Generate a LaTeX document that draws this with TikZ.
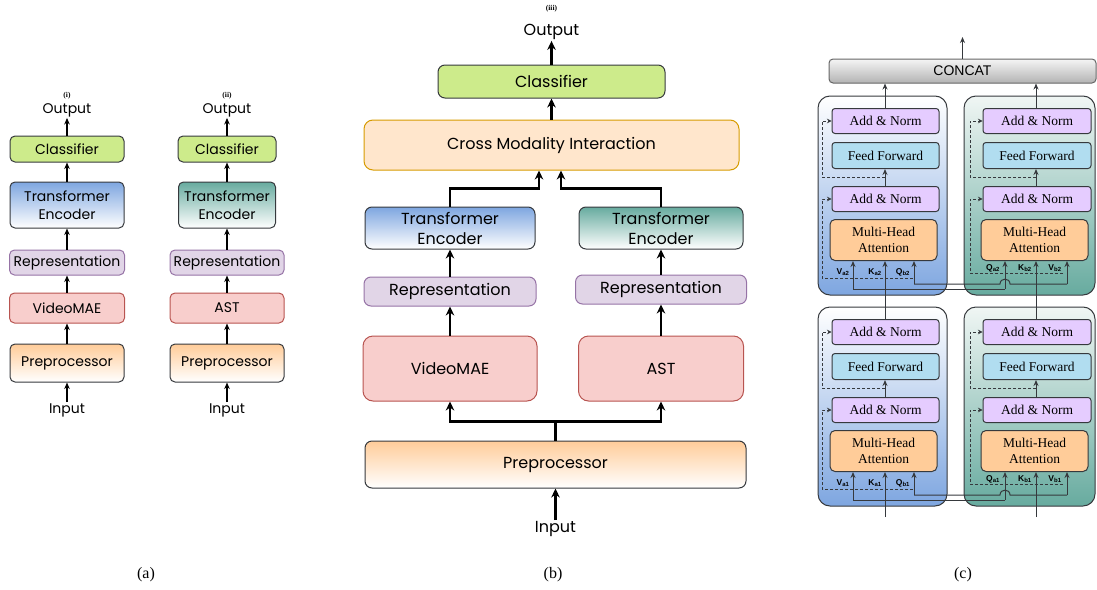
\documentclass[tikz,border=0pt]{standalone}
\usepackage{fontspec}
\setmainfont{Liberation Serif}
\newfontfamily\handfont{Poppins}
\newfontfamily\helvfont{Liberation Sans}
\usetikzlibrary{arrows.meta}

\definecolor{dk}{HTML}{36393D}
\definecolor{blueT}{HTML}{7EA6E0}
\definecolor{tealT}{HTML}{67AB9F}
\definecolor{tealL}{HTML}{F0F6F4}
\definecolor{preT}{HTML}{FFCC99}
\definecolor{clfg}{HTML}{CDEB8B}
\definecolor{repf}{HTML}{E1D5E7}
\definecolor{repd}{HTML}{9673A6}
\definecolor{encf}{HTML}{F8CECC}
\definecolor{encd}{HTML}{B85450}
\definecolor{cmif}{HTML}{FFE6CC}
\definecolor{cmid}{HTML}{D79B00}
\definecolor{addf}{HTML}{E5CCFF}
\definecolor{fff}{HTML}{B1DDF0}
\definecolor{mhaf}{HTML}{FFCC99}
\definecolor{ccT}{HTML}{F5F5F5}
\definecolor{ccB}{HTML}{B3B3B3}
\definecolor{ccD}{HTML}{666666}

\tikzset{
  % single-modality pipelines
  abox/.style={draw=dk, rounded corners=5pt, line width=1pt, inner sep=0pt, align=center,
    font=\handfont\fontsize{14}{18}\selectfont},
  % fused pipeline
  bbox/.style={draw=dk, rounded corners=7pt, line width=1pt, inner sep=0pt, align=center,
    font=\handfont\fontsize{16}{20}\selectfont},
  clf/.style={fill=clfg},
  rep/.style={fill=repf, draw=repd},
  enc/.style={fill=encf, draw=encd},
  pre/.style={top color=preT, bottom color=white},
  teA/.style={top color=blueT, bottom color=white},
  teB/.style={top color=tealT, bottom color=white},
  cmi/.style={fill=cmif, draw=cmid},
  alab/.style={font=\handfont\fontsize{14}{14}\selectfont, inner sep=1pt},
  blab/.style={font=\handfont\fontsize{16}{16}\selectfont, inner sep=1pt},
  tag/.style={font=\fontsize{7.5}{7.5}\selectfont\bfseries, inner sep=0pt},
  captxt/.style={font=\fontsize{16}{16}\selectfont, inner sep=0pt},
  arrA/.style={line width=1.5pt, -{Stealth[length=6.5pt,width=5.5pt]}},
  arrB/.style={line width=2.3pt, -{Stealth[length=9pt,width=8.5pt]}},
  % cross-attention layers
  layerA/.style={draw=dk, rounded corners=12pt, line width=1pt, top color=white, bottom color=blueT, inner sep=0pt},
  layerB/.style={draw=dk, rounded corners=12pt, line width=1pt, top color=tealL, bottom color=tealT, inner sep=0pt},
  cbox/.style={draw=dk, rounded corners=3pt, line width=1pt, inner sep=0pt, align=center,
    font=\fontsize{13.5}{16}\selectfont},
  addn/.style={cbox, fill=addf, minimum width=107pt, minimum height=25pt},
  ffw/.style={cbox, fill=fff, minimum width=107pt, minimum height=26pt},
  mha/.style={cbox, fill=mhaf, rounded corners=5pt, minimum width=107pt, minimum height=41pt},
  wire/.style={draw=dk, line width=1pt},
  warr/.style={wire, -{Stealth[length=6pt,width=5pt]}},
  res/.style={wire, dash pattern=on 3pt off 2pt, -{Stealth[length=4.5pt,width=4.5pt]}},
  qkv/.style={font=\helvfont\bfseries\fontsize{8.5}{8.5}\selectfont, inner sep=0pt},
  concat/.style={draw=ccD, rounded corners=4pt, line width=1pt, top color=ccT, bottom color=ccB,
    inner sep=0pt, font=\helvfont\fontsize{14}{14}\selectfont}
}

% one cross-attention layer: #1 name prefix, #2 vertical offset, #3 layer index
\newcommand\attnlayer[3]{%
  \begin{scope}[shift={(0,#2)}]
    \node[layerA, minimum width=129pt, minimum height=199pt] (#1LA) at (882.5,195.5) {};
    \node[layerB, minimum width=131pt, minimum height=199pt] (#1LB) at (1029.5,195.5) {};
    \node[addn] (#1AnA2) at (885.5,121) {Add \& Norm};
    \node[ffw]  (#1FfA)  at (885.5,155.5) {Feed Forward};
    \node[addn] (#1AnA1) at (885.5,199) {Add \& Norm};
    \node[mha]  (#1MhA)  at (883.5,240) {Multi-Head\\Attention};
    \node[addn, minimum width=108pt] (#1AnB2) at (1037,121) {Add \& Norm};
    \node[ffw,  minimum width=108pt] (#1FfB)  at (1037,155.5) {Feed Forward};
    \node[addn, minimum width=108pt] (#1AnB1) at (1037,199) {Add \& Norm};
    \node[mha]  (#1MhB)  at (1034.5,240) {Multi-Head\\Attention};
    % junctions of the query / key / value lines
    \coordinate (#1Va) at (853,289);
    \coordinate (#1Ka) at (885,289);
    \coordinate (#1Qa) at (1005,289);
    \coordinate (#1Qb) at (914,284);
    \coordinate (#1Kb) at (1036,284);
    \coordinate (#1Vb) at (1067,284);
    % video features
    \draw[wire] (#1Va) -- (#1Qa);
    \draw[warr] (#1Va) -- (#1Va |- #1MhA.south);
    \draw[warr] (#1Qa) -- (#1Qa |- #1MhB.south);
    % audio features, hopping over the video query line
    \draw[wire] (#1Qb) -- (1000,284) .. controls (1000,277.5) and (1010,277.5) .. (1010,284) -- (#1Vb);
    \draw[warr] (#1Qb) -- (#1Qb |- #1MhA.south);
    \draw[warr] (#1Vb) -- (#1Vb |- #1MhB.south);
    % feed-forward inputs
    \draw[warr] (#1AnA1.north -| #1Ka) -- (#1Ka |- #1FfA.south);
    \draw[warr] (#1AnB1.north -| #1Kb) -- (#1Kb |- #1FfB.south);
    % residual connections
    \draw[res] (913,278) -- (822,278) |- (#1AnA1.west);
    \draw[res] (885,177) -- (822,177) |- (#1AnA2.west);
    \draw[res] (1063,273) -- (970,273) |- (#1AnB1.west);
    \draw[res] (1036,177) -- (970,177) |- (#1AnB2.west);
    % input labels
    \node[qkv] at (843,272) {V\textsubscript{a#3}};
    \node[qkv] at (875,272) {K\textsubscript{a#3}};
    \node[qkv] at (903,272) {Q\textsubscript{b#3}};
    \node[qkv] at (993,268) {Q\textsubscript{a#3}};
    \node[qkv] at (1025,268) {K\textsubscript{b#3}};
    \node[qkv] at (1055,268) {V\textsubscript{b#3}};
  \end{scope}}

\begin{document}
\begin{tikzpicture}[x=1pt,y=-1pt]
\useasboundingbox (0,0) rectangle (1097,589);

% ---------------- (a) (i): video only ----------------
\node[abox, clf, minimum width=114pt, minimum height=26pt] (aCl) at (67,149) {Classifier};
\node[abox, teA, minimum width=114pt, minimum height=46pt] (aTE) at (67,205) {Transformer\\Encoder};
\node[abox, rep, minimum width=115pt, minimum height=25pt] (aRep) at (67,262.5) {Representation};
\node[abox, enc, minimum width=115pt, minimum height=30pt] (aVM) at (67,308) {VideoMAE};
\node[abox, pre, minimum width=114pt, minimum height=38pt] (aPre) at (67,363) {Preprocessor};
\node[alab] (aIn) at (67,410) {Input};
\node[alab] (aOut) at (67,110) {Output};
\node[tag] (aTag) at (67,96) {(i)};
\draw[arrA] (aIn) -- (aPre);
\draw[arrA] (aPre) -- (aVM);
\draw[arrA] (aVM) -- (aRep);
\draw[arrA] (aRep) -- (aTE);
\draw[arrA] (aTE) -- (aCl);
\draw[arrA] (aCl) -- (aOut);

% ---------------- (a) (ii): audio only ----------------
\node[abox, clf, minimum width=98pt, minimum height=26pt] (sCl) at (227,149) {Classifier};
\node[abox, teB, minimum width=97pt, minimum height=46pt] (sTE) at (227,205) {Transformer\\Encoder};
\node[abox, rep, minimum width=114pt, minimum height=25pt] (sRep) at (227,262.5) {Representation};
\node[abox, enc, minimum width=114pt, minimum height=30pt] (sAST) at (227,308) {AST};
\node[abox, pre, minimum width=114pt, minimum height=38pt] (sPre) at (227,363) {Preprocessor};
\node[alab] (sIn) at (227,410) {Input};
\node[alab] (sOut) at (227,110) {Output};
\node[tag] (sTag) at (227,96) {(ii)};
\draw[arrA] (sIn) -- (sPre);
\draw[arrA] (sPre) -- (sAST);
\draw[arrA] (sAST) -- (sRep);
\draw[arrA] (sRep) -- (sTE);
\draw[arrA] (sTE) -- (sCl);
\draw[arrA] (sCl) -- (sOut);

% ---------------- (b) (iii): fused model ----------------
\node[bbox, clf, minimum width=227pt, minimum height=33pt] (bCl) at (551.5,81.5) {Classifier};
\node[bbox, cmi, rounded corners=9pt, minimum width=375pt, minimum height=50pt] (bCMI) at (551.5,145) {Cross Modality Interaction};
\node[bbox, teA, minimum width=170pt, minimum height=42pt] (bTEa) at (450,228) {Transformer\\Encoder};
\node[bbox, teB, minimum width=164pt, minimum height=42pt] (bTEb) at (661,228) {Transformer\\Encoder};
\node[bbox, rep, minimum width=172pt, minimum height=29pt] (bRepa) at (450,291.5) {Representation};
\node[bbox, rep, minimum width=171pt, minimum height=29pt] (bRepb) at (661,289.5) {Representation};
\node[bbox, enc, rounded corners=10pt, minimum width=174pt, minimum height=65pt] (bVM) at (450,368.5) {VideoMAE};
\node[bbox, enc, rounded corners=10pt, minimum width=165pt, minimum height=65pt] (bAST) at (661,368.5) {AST};
\node[bbox, pre, minimum width=381pt, minimum height=47pt] (bPre) at (555.5,464.5) {Preprocessor};
\node[blab] (bIn) at (555.5,529) {Input};
\node[blab] (bOut) at (551.5,32) {Output};
\node[tag] (bTag) at (551.5,9) {(iii)};
\draw[arrB] (bIn) -- (bPre);
\draw[arrB] (bPre.north) -- ++(0,-19) -| (bVM.south);
\draw[arrB] (bPre.north) -- ++(0,-19) -| (bAST.south);
\draw[arrB] (bVM) -- (bRepa);
\draw[arrB] (bAST.north) -- (bRepb.south);
\draw[arrB] (bRepa) -- (bTEa);
\draw[arrB] (bRepb) -- (bTEb);
\draw[arrB] (bTEa.north) -- ++(0,-18) -| ([xshift=-12.5pt]bCMI.south);
\draw[arrB] (bTEb.north) -- ++(0,-18) -| ([xshift=9.5pt]bCMI.south);
\draw[arrB] (bCMI) -- (bCl);
\draw[arrB] (bCl) -- (bOut);

% ---------------- (c): cross-attention stack ----------------
\node[concat, minimum width=267pt, minimum height=24pt] (cc) at (962.5,71) {CONCAT};
\coordinate (ccOut) at (962.5,37);
\coordinate (inA) at (885,517);
\coordinate (inB) at (1036,517);

\attnlayer{up}{0}{2}
\attnlayer{lo}{211}{1}

\draw[warr] (inA) -- (inA |- loMhA.south);
\draw[warr] (inB) -- (inB |- loMhB.south);
\draw[warr] (loAnA2.north -| upKa) -- (upKa |- upMhA.south);
\draw[warr] (loAnB2.north -| upKb) -- (upKb |- upMhB.south);
\draw[warr] (upAnA2.north -| upKa) -- (upKa |- cc.south);
\draw[warr] (upAnB2.north -| upKb) -- (upKb |- cc.south);
\draw[warr] (cc.north) -- (ccOut);

% captions
\node[captxt] (capA) at (146,575) {(a)};
\node[captxt] (capB) at (553,575) {(b)};
\node[captxt] (capC) at (963,575) {(c)};
\end{tikzpicture}
\end{document}
